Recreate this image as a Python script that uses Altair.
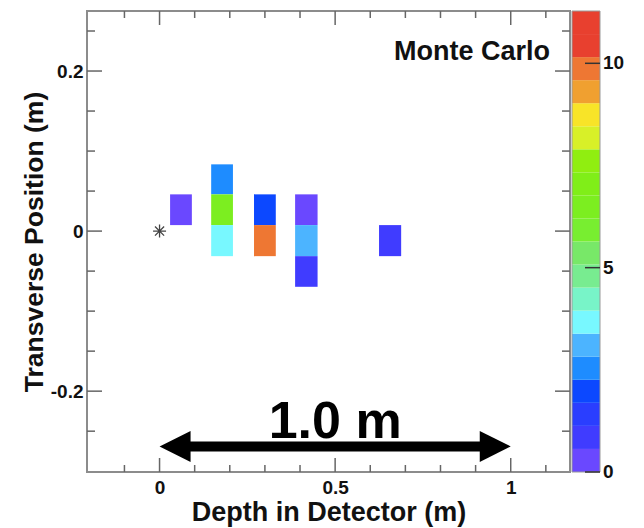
import altair as alt
import pandas as pd

# ---- data ----
depth_lo = [0.030, 0.147, 0.147, 0.147, 0.269, 0.269, 0.386, 0.386, 0.386, 0.625]
depth_hi = [0.092, 0.209, 0.209, 0.209, 0.331, 0.331, 0.450, 0.450, 0.450, 0.688]
trans_lo = [0.0075, 0.0459, 0.0075, -0.0313, 0.0075, -0.0313, 0.0075, -0.0313, -0.0696, -0.0313]
trans_hi = [0.0459, 0.0834, 0.0459, 0.0075, 0.0459, 0.0075, 0.0459, 0.0075, -0.0313, 0.0075]
energy = [0.3, 2.5, 6.5, 3.6, 2.0, 9.8, 0.3, 3.1, 0.85, 0.85]

vertex_x = [0.0]
vertex_y = [0.0]

z_max = 11.28
band_colors = [
    "#6a48ff", "#403cff", "#2a3eff", "#0c48ff", "#1e8cff", "#4cb4ff", "#78f8ff",
    "#78f4c8", "#78ec90", "#78e868", "#78ee30", "#7cee20", "#80ee18", "#90ee10",
    "#d8f028", "#f8e428", "#f0a030", "#ee7733", "#e8402f", "#e8402f",
]
cbar_ticks = [0, 5, 10]

x_major = [0, 0.5, 1]
x_minor = [-0.1, 0.1, 0.2, 0.3, 0.4, 0.6, 0.7, 0.8, 0.9, 1.1]
y_major = [-0.2, 0, 0.2]
y_minor = [-0.25, -0.15, -0.1, -0.05, 0.05, 0.1, 0.15, 0.25]

x_domain = [-0.2066, 1.1688]
y_domain = [-0.301, 0.275]

label_text = ["Monte Carlo"]
label_x = [1.112]
label_y = [0.214]

scale_text = ["1.0 m"]
scale_x = [0.5]
scale_y = [-0.259]
arrow_from = [0.05]
arrow_to = [0.95]
arrow_tip_left = [0.0]
arrow_tip_right = [1.0]
arrow_y = [-0.269]

# ---- layout / style ----
W, H = 483, 461
FONT = "Liberation Sans"
TICK = "#666666"

xs = alt.Scale(domain=x_domain, nice=False, zero=False)
ys = alt.Scale(domain=y_domain, nice=False, zero=False)

cells = pd.DataFrame({"d0": depth_lo, "d1": depth_hi, "t0": trans_lo, "t1": trans_hi, "e": energy})

x_axis = alt.Axis(
    values=x_major, format="~g", ticks=False, domain=False, grid=False,
    labelFont=FONT, labelFontWeight="bold", labelFontSize=19, labelColor="#111", labelPadding=6,
    title="Depth in Detector (m)", titleFont=FONT, titleFontWeight="bold", titleFontSize=27,
    titleColor="#111", titlePadding=2)
y_axis = alt.Axis(
    values=y_major,
    labelExpr="datum.value < 0 ? '-' + format(-datum.value, '~g') : format(datum.value, '~g')",
    ticks=False, domain=False, grid=False,
    labelFont=FONT, labelFontWeight="bold", labelFontSize=19, labelColor="#111", labelPadding=4,
    title="Transverse Position (m)", titleFont=FONT, titleFontWeight="bold", titleFontSize=26.5,
    titleColor="#111", titlePadding=2)

rects = alt.Chart(cells).mark_rect().encode(
    x=alt.X("d0:Q", scale=xs, axis=x_axis),
    x2="d1:Q",
    y=alt.Y("t0:Q", scale=ys, axis=y_axis),
    y2="t1:Q",
    color=alt.Color("e:Q", scale=alt.Scale(type="quantize", domain=[0, z_max], range=band_colors), legend=None),
)

star = alt.Chart(pd.DataFrame({"x": vertex_x, "y": vertex_y})).mark_point(
    shape="M-1,0L1,0M0,-1L0,1M-0.7,-0.7L0.7,0.7M-0.7,0.7L0.7,-0.7",
    filled=False, stroke="#444444", strokeWidth=1.3, size=169, opacity=1,
).encode(x=alt.X("x:Q", scale=xs), y=alt.Y("y:Q", scale=ys))

mc = alt.Chart(pd.DataFrame({"x": label_x, "y": label_y, "t": label_text})).mark_text(
    align="right", baseline="alphabetic", font=FONT, fontWeight="bold", fontSize=27, color="#111",
).encode(x=alt.X("x:Q", scale=xs), y=alt.Y("y:Q", scale=ys), text="t:N")

big = alt.Chart(pd.DataFrame({"x": scale_x, "y": scale_y, "t": scale_text})).mark_text(
    align="center", baseline="alphabetic", font=FONT, fontWeight="bold", fontSize=52, color="#000",
).encode(x=alt.X("x:Q", scale=xs), y=alt.Y("y:Q", scale=ys), text="t:N")

shaft = alt.Chart(pd.DataFrame({"a": arrow_from, "b": arrow_to, "y": arrow_y})).mark_rule(
    color="#000", strokeWidth=10,
).encode(x=alt.X("a:Q", scale=xs), x2="b:Q", y=alt.Y("y:Q", scale=ys))

head_l = alt.Chart(pd.DataFrame({"x": arrow_tip_left, "y": arrow_y})).mark_point(
    shape="M0,0L2,-1L2,1Z", filled=True, fill="#000", strokeWidth=0, size=961, opacity=1,
).encode(x=alt.X("x:Q", scale=xs), y=alt.Y("y:Q", scale=ys))

head_r = alt.Chart(pd.DataFrame({"x": arrow_tip_right, "y": arrow_y})).mark_point(
    shape="M0,0L-2,-1L-2,1Z", filled=True, fill="#000", strokeWidth=0, size=961, opacity=1,
).encode(x=alt.X("x:Q", scale=xs), y=alt.Y("y:Q", scale=ys))


def xticks(vals, y0, y1):
    return alt.Chart(pd.DataFrame({"v": vals})).mark_rule(color=TICK, strokeWidth=1.5).encode(
        x=alt.X("v:Q", scale=xs), y=alt.value(y0), y2=alt.value(y1))


def yticks(vals, x0, x1):
    return alt.Chart(pd.DataFrame({"v": vals})).mark_rule(color=TICK, strokeWidth=1.5).encode(
        y=alt.Y("v:Q", scale=ys), x=alt.value(x0), x2=alt.value(x1))


tick_layers = [
    xticks(x_major, H, H - 14), xticks(x_minor, H, H - 7),
    xticks(x_major, 0, 14), xticks(x_minor, 0, 7),
    yticks(y_major, 0, 15), yticks(y_minor, 0, 8),
    yticks(y_major, W, W - 15), yticks(y_minor, W, W - 8),
]

# ---- colour bar, drawn on the plot's vertical extent ----
n = len(band_colors)
span = y_domain[1] - y_domain[0]


def to_y(v):
    return y_domain[0] + v / z_max * span


bands = pd.DataFrame({
    "lo": [to_y(i * z_max / n) for i in range(n)],
    "hi": [to_y((i + 1) * z_max / n) for i in range(n)],
    "c": band_colors,
})
CB0, CB1 = 485, 513

cb_rects = alt.Chart(bands).mark_rect().encode(
    x=alt.value(CB0), x2=alt.value(CB1),
    y=alt.Y("lo:Q", scale=ys), y2="hi:Q",
    color=alt.Color("c:N", scale=None),
)
cb_frame = alt.Chart(pd.DataFrame({"k": [0]})).mark_rect(fillOpacity=0, stroke="#999999", strokeWidth=1).encode(
    x=alt.value(CB0), x2=alt.value(CB1), y=alt.value(0), y2=alt.value(H))
cb_tick_df = pd.DataFrame({"p": [to_y(v) for v in cbar_ticks], "t": [str(v) for v in cbar_ticks]})
cb_ticks = alt.Chart(cb_tick_df).mark_rule(color="#333333", strokeWidth=1.5).encode(
    y=alt.Y("p:Q", scale=ys), x=alt.value(CB1 - 15), x2=alt.value(CB1))
cb_labels = alt.Chart(cb_tick_df).mark_text(
    align="left", baseline="middle", font=FONT, fontWeight="bold", fontSize=19, color="#111",
).encode(y=alt.Y("p:Q", scale=ys), x=alt.value(CB1 + 3), text="t:N")

chart = alt.layer(
    rects, star, shaft, head_l, head_r, big, mc, *tick_layers,
    cb_rects, cb_frame, cb_ticks, cb_labels,
).properties(
    width=W, height=H,
    autosize=alt.AutoSizeParams(type="none"),
    padding={"left": 87, "top": 11, "right": 644 - 87 - W, "bottom": 528 - 11 - H},
    background="white",
).configure_view(stroke="#8c8c8c", strokeWidth=2)

chart.save("out.html", embed_options={"renderer": "svg", "actions": False})
